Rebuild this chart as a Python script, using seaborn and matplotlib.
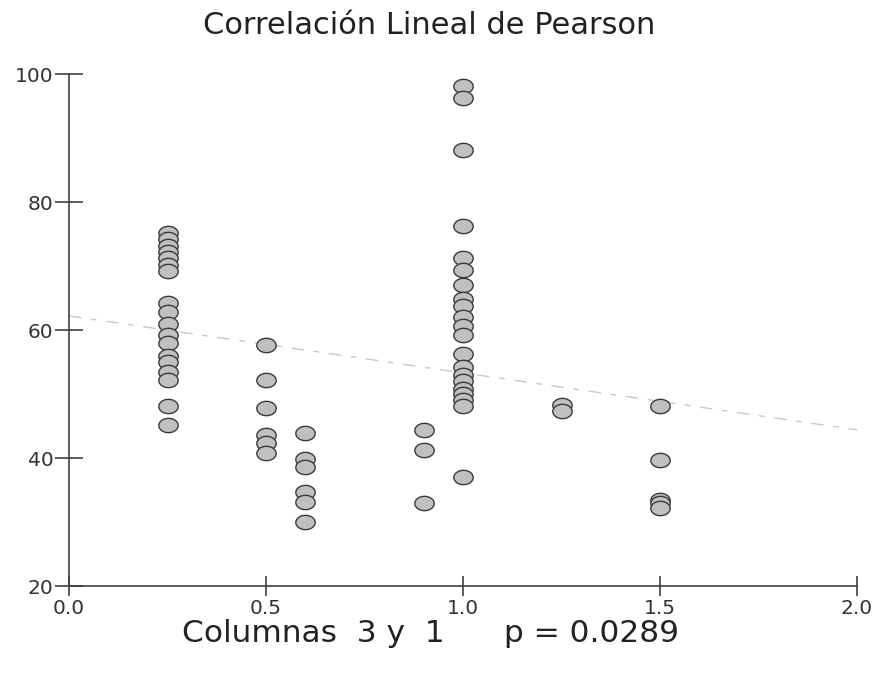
import numpy as np
import pandas as pd
import matplotlib
matplotlib.use("Agg")
import matplotlib.pyplot as plt
from matplotlib.path import Path
import seaborn as sns

# ---- data ----
x_025 = [0.25] * 18
y_025 = [75.2, 74.2, 73.2, 72.2, 71.2, 70.2, 69.2, 64.2, 62.8, 61.0, 59.2, 58.0, 56.0, 55.0, 53.5, 52.2, 48.2, 45.2]
x_050 = [0.5] * 6
y_050 = [57.7, 52.2, 47.8, 43.6, 42.3, 40.8]
x_060 = [0.6] * 6
y_060 = [43.9, 39.9, 38.6, 34.7, 33.1, 30.0]
x_090 = [0.9] * 3
y_090 = [44.3, 41.2, 33.0]
x_100 = [1.0] * 21
y_100 = [98.2, 96.2, 88.1, 76.3, 71.2, 69.3, 67.1, 64.9, 63.8, 62.0, 60.7, 59.2,
         56.2, 54.2, 53.0, 52.0, 50.8, 50.0, 49.0, 48.2, 37.0]
x_125 = [1.25] * 2
y_125 = [48.3, 47.3]
x_150 = [1.5] * 5
y_150 = [48.1, 39.7, 33.5, 33.0, 32.2]

fit_x = [0.0, 2.0]
fit_y = [62.2, 44.4]

title = "Correlación Lineal de Pearson"
footer = "Columnas  3 y  1      p = 0.0289"
x_ticks = [0.0, 0.5, 1.0, 1.5, 2.0]
x_ticklabels = ["0.0", "0.5", "1.0", "1.5", "2.0"]
y_ticks = [20, 40, 60, 80, 100]

df = pd.DataFrame({
    "x": x_025 + x_050 + x_060 + x_090 + x_100 + x_125 + x_150,
    "y": y_025 + y_050 + y_060 + y_090 + y_100 + y_125 + y_150,
})

sns.set_theme(style="white")
plt.rcParams["font.family"] = ["DejaVu Sans"]

fig = plt.figure(figsize=(8.76, 6.74), dpi=100)
ax = fig.add_axes([69 / 876, 1 - 586 / 674, (857 - 69) / 876, (586 - 74) / 674])

# ellipse marker
t = np.linspace(0, 2 * np.pi, 40)
verts = np.column_stack([np.cos(t), 0.74 * np.sin(t)])
ell = Path(verts, closed=True)

sns.lineplot(x=fit_x, y=fit_y, ax=ax, color="#c8c8c8", lw=1.0,
             linestyle=(0, (9, 7, 4, 7)), zorder=1)
sns.scatterplot(data=df, x="x", y="y", ax=ax, marker=ell, s=195,
                color="#c0c0c0", edgecolor="#3a3a3a", linewidth=1.0, zorder=3)

ax.set_xlim(0, 2.0)
ax.set_ylim(20, 100)
ax.set_xticks(x_ticks)
ax.set_xticklabels(x_ticklabels)
ax.set_yticks(y_ticks)
ax.set_xlabel("")
ax.set_ylabel("")
for s in ["top", "right"]:
    ax.spines[s].set_visible(False)
for s in ["left", "bottom"]:
    ax.spines[s].set_color("#404040")
    ax.spines[s].set_linewidth(1.2)
ax.tick_params(axis="both", bottom=True, left=True, direction="inout", width=1.2,
               color="#404040", labelsize=14.5, labelcolor="#333333")
ax.tick_params(axis="y", length=20, pad=1)
ax.tick_params(axis="x", length=14, pad=2)
ax.grid(False)

fig.text(0.49, 1 - 25 / 674, title, ha="center", va="center", fontsize=22, color="#222222")
fig.text(0.492, 1 - 633 / 674, footer, ha="center", va="center", fontsize=22.5, color="#222222")

fig.savefig("out.png", dpi=100)
